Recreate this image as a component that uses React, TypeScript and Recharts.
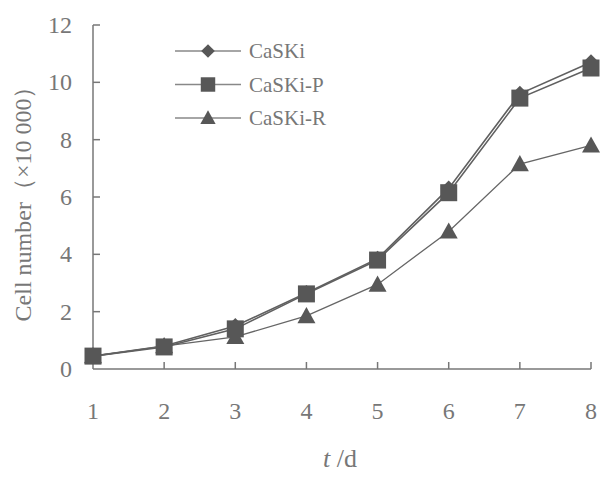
import { LineChart, Line, XAxis, YAxis, Customized } from "recharts";

const days = [1, 2, 3, 4, 5, 6, 7, 8];
const caski = [0.45, 0.8, 1.5, 2.65, 3.85, 6.3, 9.6, 10.7];
const caskiP = [0.45, 0.77, 1.4, 2.62, 3.8, 6.15, 9.45, 10.5];
const caskiR = [0.45, 0.8, 1.12, 1.85, 2.95, 4.8, 7.15, 7.8];
const yTicks = [0, 2, 4, 6, 8, 10, 12];
const seriesNames = ["CaSKi", "CaSKi-P", "CaSKi-R"];

const data = days.map((d, i) => ({
  day: d,
  caski: caski[i],
  caskiP: caskiP[i],
  caskiR: caskiR[i]
}));

const AXIS = "#777";
const MARK = "#575757";
const FONT = "'Liberation Serif', 'Times New Roman', serif";

/* -----------------------------
   MARKERS
------------------------------ */
function Marker({ kind, cx, cy, scale = 1 }: { kind: string; cx: number; cy: number; scale?: number }) {
  if (kind === "diamond") {
    const r = 8 * scale;
    return (
      <polygon
        points={`${cx},${cy - r} ${cx + r},${cy} ${cx},${cy + r} ${cx - r},${cy}`}
        fill={MARK}
      />
    );
  }
  if (kind === "square") {
    const s = 8.5 * scale;
    return <rect x={cx - s} y={cy - s} width={s * 2} height={s * 2} fill={MARK} />;
  }
  const r = 9 * scale;
  return (
    <polygon
      points={`${cx},${cy - r} ${cx + r},${cy + r * 0.8} ${cx - r},${cy + r * 0.8}`}
      fill={MARK}
    />
  );
}

const dotOf = (kind: string) => (p: any) => (
  <Marker key={`${kind}-${p.index}`} kind={kind} cx={p.cx} cy={p.cy} />
);

/* -----------------------------
   TICKS (inward marks)
------------------------------ */
function YTick(props: any) {
  const { x, y, payload } = props;
  return (
    <g>
      {payload.value !== 0 && (
        <line x1={x} x2={x + 7} y1={y} y2={y} stroke={AXIS} strokeWidth={1.5} />
      )}
      <text
        x={x - 21}
        y={y + 8}
        textAnchor="end"
        fontFamily={FONT}
        fontSize={24}
        fill={AXIS}
      >
        {payload.value}
      </text>
    </g>
  );
}

function XTick(props: any) {
  const { x, y, payload } = props;
  return (
    <g>
      {payload.value !== 1 && (
        <line x1={x} x2={x} y1={y} y2={y - 7} stroke={AXIS} strokeWidth={1.5} />
      )}
      <text
        x={x}
        y={y + 50}
        textAnchor="middle"
        fontFamily={FONT}
        fontSize={24}
        fill={AXIS}
      >
        {payload.value}
      </text>
    </g>
  );
}

function LegendBox() {
  const kinds = ["diamond", "square", "triangle"];
  return (
    <g>
      {seriesNames.map((name, i) => {
        const cy = 51 + i * 33.5;
        return (
          <g key={name}>
            <line x1={175} x2={241} y1={cy} y2={cy} stroke="#888" strokeWidth={1.5} />
            <Marker kind={kinds[i]} cx={208} cy={cy} scale={0.85} />
            <text x={249} y={cy + 7} fontFamily={FONT} fontSize={21} fill={AXIS}>
              {name}
            </text>
          </g>
        );
      })}
    </g>
  );
}

function AxisTitles() {
  return (
    <g fontFamily={FONT} fill={AXIS}>
      <text
        transform="translate(31,198) rotate(-90)"
        textAnchor="middle"
        fontSize={24}
      >
        Cell number（×10 000）
      </text>
      <text x={340} y={467} textAnchor="middle" fontSize={26}>
        <tspan fontStyle="italic">t</tspan>
        <tspan> /d</tspan>
      </text>
    </g>
  );
}

export default function App() {
  return (
    <div style={{ position: "absolute", left: 0, top: 0, background: "#fff" }}>
      <LineChart
        width={602}
        height={477}
        data={data}
        margin={{ top: 25, right: 11, bottom: 48, left: 33 }}
      >
        <XAxis
          dataKey="day"
          type="number"
          domain={[1, 8]}
          ticks={days}
          stroke={AXIS}
          strokeWidth={1.5}
          tickLine={false}
          tickSize={0}
          tickMargin={0}
          height={60}
          tick={<XTick />}
        />
        <YAxis
          type="number"
          domain={[0, 12]}
          ticks={yTicks}
          stroke={AXIS}
          strokeWidth={1.5}
          tickLine={false}
          tickSize={0}
          tickMargin={0}
          width={60}
          tick={<YTick />}
        />
        <Line
          dataKey="caski"
          stroke="#606060"
          strokeWidth={1.6}
          dot={dotOf("diamond")}
          isAnimationActive={false}
        />
        <Line
          dataKey="caskiR"
          stroke="#666"
          strokeWidth={1.3}
          dot={dotOf("triangle")}
          isAnimationActive={false}
        />
        <Line
          dataKey="caskiP"
          stroke="#606060"
          strokeWidth={1.6}
          dot={dotOf("square")}
          isAnimationActive={false}
        />
        <Customized component={<LegendBox />} />
        <Customized component={<AxisTitles />} />
      </LineChart>
    </div>
  );
}
